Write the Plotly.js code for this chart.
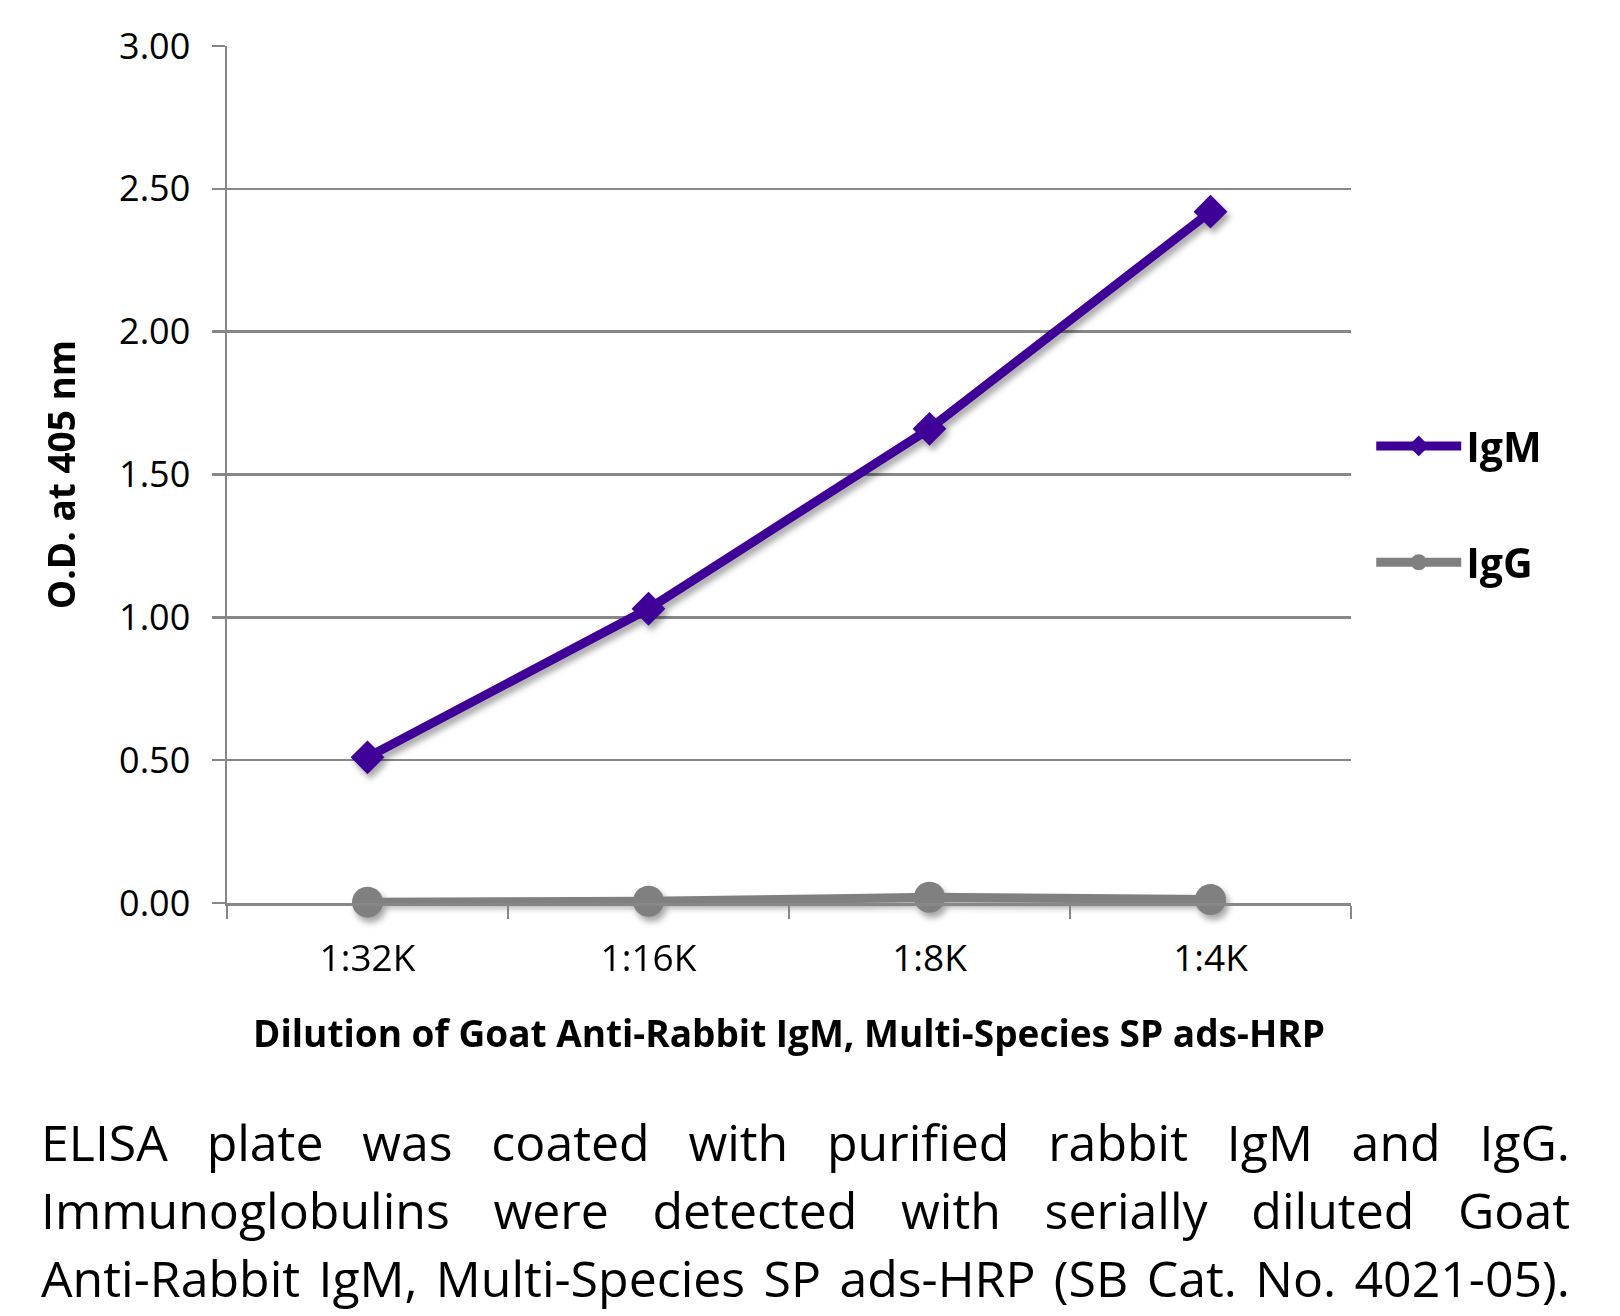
<!DOCTYPE html>
<html>
<head>
<meta charset="utf-8">
<script src="https://cdn.plot.ly/plotly-3.0.1.min.js"></script>
<style>
  html, body { margin: 0; padding: 0; background: #fff; }
  #wrap { position: relative; width: 1620px; height: 1316px; overflow: hidden; }
  #chart { position: absolute; left: 0; top: 0; width: 1620px; height: 1316px; }
  #caption { position: absolute; left: 41px; width: 1529px; top: 1108px;
    font-family: "Open Sans", sans-serif; font-size: 50px; color: #000; line-height: 68px; }
  #caption div { text-align: justify; text-align-last: justify; white-space: nowrap; }
  .scatterlayer .trace { filter: drop-shadow(3px 5px 3px rgba(0,0,0,0.35)); }
</style>
</head>
<body>
<div id="wrap">
  <div id="chart"></div>
  <div id="caption"></div>
</div>
<script>
const categories = ['1:32K', '1:16K', '1:8K', '1:4K'];
const igmValues = [0.51, 1.03, 1.66, 2.42];
const iggValues = [0.003, 0.006, 0.02, 0.012];
const seriesNames = ['IgM', 'IgG'];
const yTickVals = [0, 0.5, 1, 1.5, 2, 2.5, 3];
const yTickText = ['0.00', '0.50', '1.00', '1.50', '2.00', '2.50', '3.00'];
const yTitle = 'O.D. at 405 nm';
const xTitle = 'Dilution of Goat Anti-Rabbit IgM, Multi-Species SP ads-HRP';
const captionLines = [
  'ELISA plate was coated with purified rabbit IgM and IgG.',
  'Immunoglobulins were detected with serially diluted Goat',
  'Anti-Rabbit IgM, Multi-Species SP ads-HRP (SB Cat. No. 4021-05).'
];

const cap = document.getElementById('caption');
captionLines.forEach(function (t) {
  const d = document.createElement('div');
  d.textContent = t;
  cap.appendChild(d);
});

const FONT = '"Open Sans", sans-serif';
const GRID = '#878787';

const traces = [
  {
    x: categories, y: igmValues, name: seriesNames[0], type: 'scatter', mode: 'lines+markers',
    line: { color: '#3F0097', width: 9 },
    marker: { symbol: 'diamond', size: 26, color: '#3F0097' },
    cliponaxis: false, legendgroup: 'a'
  },
  {
    x: categories, y: iggValues, name: seriesNames[1], type: 'scatter', mode: 'lines+markers',
    line: { color: '#808080', width: 9 },
    marker: { symbol: 'circle', size: 31, color: '#808080' },
    cliponaxis: false, legendgroup: 'b'
  }
];

const layout = {
  width: 1620, height: 1316,
  margin: { l: 227, r: 269, t: 46, b: 413 },
  paper_bgcolor: '#fff', plot_bgcolor: '#fff',
  font: { family: FONT, color: '#000' },
  showlegend: true,
  legend: {
    x: 1.018, y: 0.572, xanchor: 'left', yanchor: 'top',
    font: { family: FONT, size: 41, weight: 'bold', color: '#000' },
    traceorder: 'grouped', tracegroupgap: 60, itemwidth: 85,
    bgcolor: 'rgba(0,0,0,0)'
  },
  xaxis: {
    type: 'category', range: [-0.5, 3.5],
    showgrid: false, zeroline: false,
    showline: true, linecolor: GRID, linewidth: 2.5,
    ticks: 'outside', tickson: 'boundaries', ticklen: 13, tickwidth: 2, tickcolor: GRID,
    tickfont: { family: FONT, size: 37, color: '#000' },
    ticklabelstandoff: 21,
    title: { text: xTitle, font: { family: FONT, size: 37, weight: 'bold', color: '#000' }, standoff: 40 }
  },
  yaxis: {
    range: [0, 3], tickvals: yTickVals, ticktext: yTickText,
    showgrid: true, gridcolor: GRID, gridwidth: 2.5,
    zeroline: false,
    showline: true, linecolor: GRID, linewidth: 2.5,
    ticks: 'outside', ticklen: 13, tickwidth: 2.5, tickcolor: GRID,
    tickfont: { family: FONT, size: 36, color: '#000' },
    ticklabelstandoff: 14,
    title: { text: yTitle, font: { family: FONT, size: 37, weight: 'bold', color: '#000' }, standoff: 32 }
  }
};

Plotly.newPlot('chart', traces, layout, { displayModeBar: false, staticPlot: true });
</script>
</body>
</html>
